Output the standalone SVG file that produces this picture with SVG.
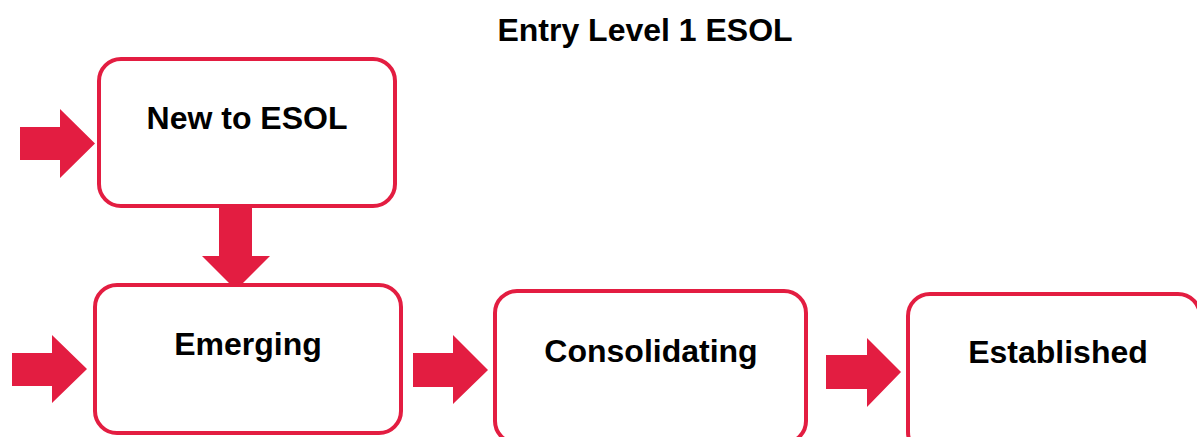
<svg xmlns="http://www.w3.org/2000/svg" width="1197" height="437" viewBox="0 0 1197 437">
<style>
.box{fill:#fff;stroke:#E31D41;stroke-width:4}
.arr{fill:#E31D41}
text{font-family:"Liberation Sans",Arial,sans-serif;font-weight:bold;font-size:32px;fill:#000;text-anchor:middle}
</style>
<rect width="1197" height="437" fill="#fff"/>
<text id="title" x="645" y="41">Entry Level 1 ESOL</text>
<g id="connectors">
<polygon class="arr" points="20,127 60,127 60,109 95,143.5 60,178 60,160 20,160"/>
<polygon class="arr" points="219,208 252,208 252,256 270,256 236,290 202,256 219,256"/>
<polygon class="arr" points="12,353 52,353 52,335 87,369 52,403 52,386 12,386"/>
<polygon class="arr" points="413,353 453,353 453,335 488,370 453,404 453,387 413,387"/>
<polygon class="arr" points="826,355 867,355 867,338 901,372 867,407 867,389 826,389"/>
</g>
<g id="node-new">
<rect class="box" x="99" y="59" width="296" height="147" rx="22"/>
<text x="247" y="129">New to ESOL</text>
</g>
<g id="node-emerging">
<rect class="box" x="95" y="285" width="306" height="148" rx="22"/>
<text x="248" y="355">Emerging</text>
</g>
<g id="node-consolidating">
<rect class="box" x="495" y="291" width="311" height="152" rx="22"/>
<text x="651" y="362">Consolidating</text>
</g>
<g id="node-established">
<rect class="box" x="908" y="294" width="292" height="160" rx="22"/>
<text x="1058" y="363">Established</text>
</g>
</svg>
